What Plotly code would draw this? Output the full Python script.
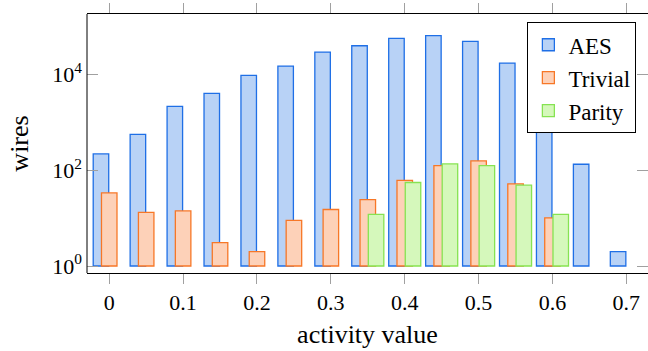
import plotly.graph_objects as go

activity = [0.0, 0.05, 0.1, 0.15, 0.2, 0.25, 0.3, 0.35, 0.4, 0.45, 0.5, 0.55, 0.6, 0.65, 0.7]
aes = [219, 557, 2145, 4010, 9530, 14900, 29200, 39600, 56500, 64100, 48900, 17200, 3000, 133, 2]
trivial_x = [0.0, 0.05, 0.1, 0.15, 0.2, 0.25, 0.3, 0.35, 0.4, 0.45, 0.5, 0.55, 0.6]
trivial = [33.6, 13.2, 14.1, 3.08, 2, 9.0, 15.1, 24.4, 61, 125, 156, 51.7, 10.1]
parity_x = [0.35, 0.4, 0.45, 0.5, 0.55, 0.6]
parity = [12, 55.3, 135, 125, 48.6, 12]

xticks = [0, 0.1, 0.2, 0.3, 0.4, 0.5, 0.6, 0.7]
xticklabels = ["0", "0.1", "0.2", "0.3", "0.4", "0.5", "0.6", "0.7"]
yticks = [1, 100, 10000]
yticklabels = ["10<sup>0</sup>", "10<sup>2</sup>", "10<sup>4</sup>"]

FONT = "Liberation Serif"
W = 0.021
SHIFT = 0.0112
BASE = 1

series = [
    ("AES", activity, aes, -SHIFT, "#b8d2f6", "#1f6fe6"),
    ("Trivial", trivial_x, trivial, 0.0, "#fdd1b8", "#f77727"),
    ("Parity", parity_x, parity, SHIFT, "#d5f8bb", "#86e352"),
]

fig = go.Figure()
for name, xs, vals, sh, fill, line in series:
    fig.add_trace(go.Bar(
        name=name, x=xs, y=[v - BASE for v in vals], base=BASE,
        width=W, offset=sh - W / 2,
        marker=dict(color=fill, line=dict(color=line, width=1.3)),
    ))

fig.update_layout(
    width=648, height=351,
    margin=dict(l=87, r=0, t=14, b=78, autoexpand=False),
    barmode="overlay",
    plot_bgcolor="white", paper_bgcolor="white",
    font=dict(family=FONT, size=22, color="black"),
    showlegend=True,
    legend=dict(x=0.785, y=0.968, xanchor="left", yanchor="top",
                bgcolor="white", bordercolor="black", borderwidth=1,
                font=dict(family=FONT, size=23), tracegroupgap=0,
                itemwidth=30),
    xaxis=dict(range=[-0.0301, 0.7293], tickvals=xticks, ticktext=xticklabels,
               ticks="outside", ticklen=10, tickcolor="#a0a0a0", tickwidth=1,
               showline=True, linecolor="black", linewidth=1, mirror="ticks",
               showgrid=False, zeroline=False, automargin=False,
               title=dict(text="activity value", standoff=10),
               tickfont=dict(family=FONT, size=22)),
    yaxis=dict(type="log", range=[-0.146, 5.26], tickvals=yticks, ticktext=yticklabels,
               ticks="inside", ticklen=11, tickcolor="#a0a0a0", tickwidth=1,
               ticklabelstandoff=4,
               showline=False, mirror="ticks",
               showgrid=False, zeroline=False, automargin=False,
               title=dict(text="wires", standoff=16),
               tickfont=dict(family=FONT, size=22)),
    shapes=[dict(type="line", xref="paper", yref="paper", x0=0, x1=0, y0=0, y1=1,
                 line=dict(color="black", width=1))],
)

fig.write_html("out.html", config={"displayModeBar": False},
               post_script="document.body.style.margin='0';")
